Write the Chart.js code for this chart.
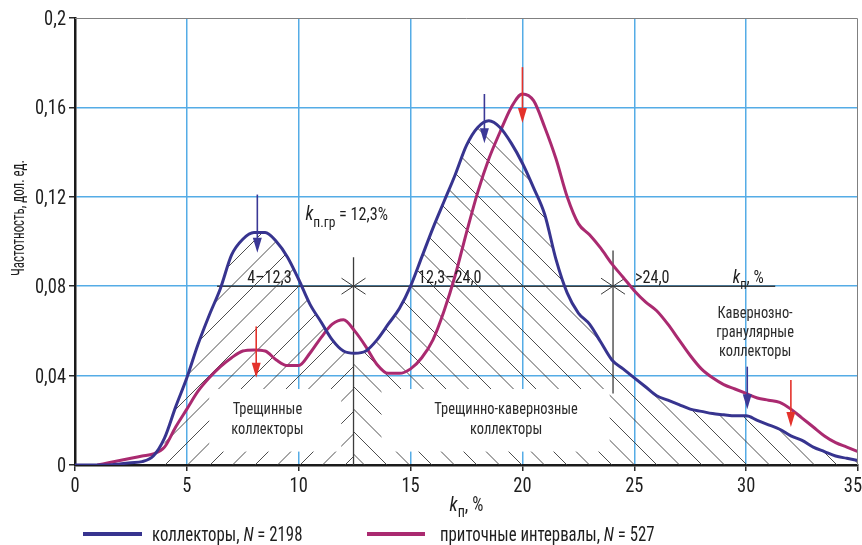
<!DOCTYPE html>
<html>
<head>
<meta charset="utf-8">
<script src="https://cdn.jsdelivr.net/npm/chart.js@4.4.1/dist/chart.umd.min.js"></script>
<style>
  body { margin: 0; background: #fff; overflow: hidden; }
  canvas { display: block; }
</style>
</head>
<body>
<canvas id="chart" width="862" height="545"></canvas>
<script>
// DATA
const porosity = [0, 0.5, 1, 1.5, 2, 2.5, 3, 3.5, 4, 4.5, 5, 5.5, 6, 6.5, 7, 7.5, 8, 8.5, 9, 9.5,
  10, 10.5, 11, 11.5, 12, 12.5, 13, 13.5, 14, 14.5, 15, 15.5, 16, 16.5, 17, 17.5, 18, 18.5, 19, 19.5,
  20, 20.5, 21, 21.5, 22, 22.5, 23, 23.5, 24, 24.5, 25, 25.5, 26, 26.5, 27, 27.5, 28, 28.5, 29, 29.5,
  30, 30.5, 31, 31.5, 32, 32.5, 33, 33.5, 34, 34.5, 35];

const collectors = [0, 0, 0, 0, 0.0005, 0.001, 0.0015, 0.004, 0.012, 0.026, 0.039, 0.054, 0.067, 0.079, 0.094, 0.101, 0.104, 0.104, 0.1, 0.093,
  0.083, 0.072, 0.064, 0.056, 0.051, 0.05, 0.051, 0.056, 0.063, 0.07, 0.08, 0.093, 0.106, 0.118, 0.13, 0.143, 0.151, 0.154, 0.151, 0.144,
  0.135, 0.124, 0.112, 0.092, 0.077, 0.068, 0.063, 0.055, 0.047, 0.043, 0.039, 0.035, 0.031, 0.029, 0.027, 0.025, 0.024, 0.023, 0.0225, 0.022,
  0.022, 0.02, 0.018, 0.016, 0.013, 0.011, 0.008, 0.006, 0.004, 0.003, 0.002];

const inflow = [null, null, 0, 0.001, 0.002, 0.003, 0.004, 0.005, 0.008, 0.017, 0.025, 0.033, 0.039, 0.044, 0.048, 0.051, 0.0515, 0.051, 0.047, 0.0445,
  0.0445, 0.05, 0.057, 0.063, 0.065, 0.06, 0.053, 0.045, 0.041, 0.041, 0.043, 0.048, 0.056, 0.069, 0.085, 0.104, 0.122, 0.137, 0.149, 0.16,
  0.166, 0.163, 0.151, 0.137, 0.12, 0.108, 0.103, 0.097, 0.09, 0.084, 0.078, 0.073, 0.069, 0.063, 0.056, 0.049, 0.043, 0.039, 0.036, 0.034,
  0.032, 0.03, 0.029, 0.028, 0.025, 0.021, 0.017, 0.013, 0.01, 0.008, 0.006];

const yTickLabels = ['0', '0,04', '0,08', '0,12', '0,16', '0,2'];
const xTickLabels = ['0', '5', '10', '15', '20', '25', '30', '35'];

const seriesNames = ['коллекторы', 'приточные интервалы'];
const seriesCounts = [2198, 527];

// class boundaries (kп, %) and their labels
const boundaries = [12.45, 24.05];
const classLabels = ['4–12,3', '12,3–24,0', '>24,0'];
const classLevel = 0.08;

// modal arrows: x, top, tip, series index
const arrowX = [8.15, 8.1, 18.3, 20.0, 30.05, 32.0];
const arrowTop = [0.121, 0.062, 0.166, 0.178, 0.044, 0.038];
const arrowTip = [0.095, 0.039, 0.144, 0.153, 0.025, 0.017];
const arrowSeries = [0, 1, 0, 1, 0, 1];

// STYLE
const FONT = "'Liberation Sans Narrow', 'Arial Narrow', 'Roboto Condensed', Roboto, 'Liberation Sans', sans-serif";
const BLUE = '#37348f';
const MAGENTA = '#aa2a70';
const ARROW_COLORS = ['#3b3896', '#e4322b'];
const GRID = '#55ace6';
const INK = '#2a2a2a';

function setFont(ctx, size, italic) {
    ctx.font = (italic ? 'italic ' : '') + size + 'px ' + FONT;
}

// parts: [text, size, italic, dy]; c = horizontal condensing
function richText(ctx, x, y, parts, align, c) {
    c = c || 0.9;
    let total = 0;
    const widths = parts.map(p => {
        setFont(ctx, p[1], p[2]);
        const w = ctx.measureText(p[0]).width * c;
        total += w;
        return w;
    });
    let cx = x;
    if (align === 'center') cx = x - total / 2;
    if (align === 'right') cx = x - total;
    ctx.textAlign = 'left';
    ctx.textBaseline = 'alphabetic';
    parts.forEach((p, i) => {
        setFont(ctx, p[1], p[2]);
        ctx.save();
        ctx.translate(cx, y + (p[3] || 0));
        ctx.scale(c, 1);
        ctx.fillText(p[0], 0, 0);
        ctx.restore();
        cx += widths[i];
    });
    return total;
}

function hatch(ctx, ca, dir, step, phase) {
    const h = ca.bottom - ca.top;
    let x0 = phase - Math.ceil((phase - ca.left + h) / step) * step;
    ctx.beginPath();
    for (; x0 < ca.right + h; x0 += step) {
        ctx.moveTo(x0, ca.bottom);
        ctx.lineTo(x0 + dir * h, ca.top);
    }
    ctx.stroke();
}

function arrow(ctx, px, y1, y2, color) {
    ctx.strokeStyle = color;
    ctx.fillStyle = color;
    ctx.lineWidth = 1.6;
    ctx.beginPath();
    ctx.moveTo(px, y1);
    ctx.lineTo(px, y2 - 10);
    ctx.stroke();
    ctx.beginPath();
    ctx.moveTo(px - 4.5, y2 - 15);
    ctx.lineTo(px + 4.5, y2 - 15);
    ctx.lineTo(px, y2);
    ctx.closePath();
    ctx.fill();
}

// ===================================================
// HATCHING, CLASS LINES
// ===================================================
const hatchPlugin = {
    id: 'hatch',
    beforeDatasetsDraw(chart) {
        const { ctx, chartArea: ca, scales: { x, y } } = chart;
        const line = chart.getDatasetMeta(0).dataset;
        line.updateControlPoints(ca, 'x');

        function clipUnder(x1, x2) {
            const p1 = x.getPixelForValue(x1);
            const p2 = x.getPixelForValue(x2);
            ctx.beginPath();
            ctx.rect(p1, ca.top, p2 - p1, ca.bottom - ca.top);
            ctx.clip();
            ctx.beginPath();
            line.path(ctx);
            ctx.lineTo(ca.right, ca.bottom);
            ctx.lineTo(ca.left, ca.bottom);
            ctx.closePath();
            ctx.clip();
        }

        ctx.save();
        ctx.strokeStyle = '#3a3a3a';
        ctx.lineWidth = 0.9;

        ctx.save();
        clipUnder(4, boundaries[0]);
        hatch(ctx, ca, 1, 22.5, 165);
        ctx.restore();

        ctx.save();
        clipUnder(boundaries[0], 35);
        hatch(ctx, ca, -1, 22.5, 387);
        ctx.restore();

        // white boxes behind class names
        ctx.fillStyle = '#fff';
        const by1 = y.getPixelForValue(0.034);
        const by2 = y.getPixelForValue(0.006);
        [[6.0, 11.9], [13.7, 23.9]].forEach(b => {
            const a = x.getPixelForValue(b[0]);
            const c = x.getPixelForValue(b[1]);
            ctx.fillRect(a, by1, c - a, by2 - by1);
        });

        // class level line and boundaries
        const ly = y.getPixelForValue(classLevel);
        ctx.strokeStyle = '#3c3c3c';
        ctx.lineWidth = 1.6;
        ctx.beginPath();
        ctx.moveTo(x.getPixelForValue(6.35), ly);
        ctx.lineTo(x.getPixelForValue(31.3), ly);
        ctx.stroke();

        ctx.lineWidth = 1.3;
        ctx.beginPath();
        ctx.moveTo(x.getPixelForValue(boundaries[0]), y.getPixelForValue(0));
        ctx.lineTo(x.getPixelForValue(boundaries[0]), y.getPixelForValue(0.093));
        ctx.moveTo(x.getPixelForValue(boundaries[1]), y.getPixelForValue(0.032));
        ctx.lineTo(x.getPixelForValue(boundaries[1]), y.getPixelForValue(0.096));
        ctx.stroke();

        ctx.lineWidth = 1;
        boundaries.forEach(b => {
            const px = x.getPixelForValue(b);
            ctx.beginPath();
            ctx.moveTo(px - 12, ly - 8);
            ctx.lineTo(px + 12, ly + 8);
            ctx.moveTo(px - 12, ly + 8);
            ctx.lineTo(px + 12, ly - 8);
            ctx.stroke();
        });
        ctx.restore();
    },

    afterDatasetsDraw(chart) {
        const { ctx, chartArea: ca, scales: { x, y } } = chart;
        ctx.save();

        // frame top / right
        ctx.strokeStyle = '#808080';
        ctx.lineWidth = 1;
        ctx.beginPath();
        ctx.moveTo(ca.left, ca.top + 0.5);
        ctx.lineTo(ca.right - 0.5, ca.top + 0.5);
        ctx.lineTo(ca.right - 0.5, ca.bottom);
        ctx.stroke();

        // tick labels
        ctx.fillStyle = '#1e1e1e';
        y.ticks.forEach((t, i) => {
            richText(ctx, ca.left - 9, y.getPixelForValue(t.value) + 7, [[yTickLabels[i], 21]], 'right', 0.88);
        });
        x.ticks.forEach((t, i) => {
            let px = x.getPixelForValue(t.value);
            setFont(ctx, 21);
            const w = ctx.measureText(xTickLabels[i]).width * 0.88;
            px = Math.min(px, 862 - w / 2);
            richText(ctx, px, 492, [[xTickLabels[i], 21]], 'center', 0.88);
        });

        // arrows
        arrowX.forEach((ax, i) => {
            arrow(ctx, x.getPixelForValue(ax), y.getPixelForValue(arrowTop[i]),
                y.getPixelForValue(arrowTip[i]), ARROW_COLORS[arrowSeries[i]]);
        });

        // texts
        ctx.fillStyle = '#1e1e1e';
        const ly = y.getPixelForValue(classLevel) - 3;
        richText(ctx, x.getPixelForValue(7.7), ly, [[classLabels[0], 18]]);
        richText(ctx, x.getPixelForValue(15.33), ly, [[classLabels[1], 18]]);
        richText(ctx, x.getPixelForValue(25.03), ly, [[classLabels[2], 18]]);
        richText(ctx, x.getPixelForValue(29.4), ly, [['k', 19, true], ['п', 14, false, 6], [', %', 18]]);

        richText(ctx, x.getPixelForValue(10.3), y.getPixelForValue(0.1095),
            [['k', 20, true], ['п.гр', 15, false, 7], [' = 12,3%', 18]]);

        ctx.fillStyle = '#2a2a2a';
        const t1 = 414, t2 = 434;
        richText(ctx, x.getPixelForValue(8.6), t1, [['Трещинные', 16]], 'center');
        richText(ctx, x.getPixelForValue(8.6), t2, [['коллекторы', 16]], 'center');
        richText(ctx, x.getPixelForValue(19.27), t1, [['Трещинно-кавернозные', 16]], 'center');
        richText(ctx, x.getPixelForValue(19.27), t2, [['коллекторы', 16]], 'center');
        richText(ctx, x.getPixelForValue(30.4), 318, [['Кавернозно-', 16]], 'center');
        richText(ctx, x.getPixelForValue(30.4), 337, [['гранулярные', 16]], 'center');
        richText(ctx, x.getPixelForValue(30.4), 356, [['коллекторы', 16]], 'center');

        // axis titles
        ctx.fillStyle = '#1e1e1e';
        richText(ctx, (ca.left + ca.right) / 2, 511, [['k', 21, true], ['п', 16, false, 6], [', %', 20]], 'center', 0.88);

        ctx.save();
        ctx.translate(24, 218);
        ctx.rotate(-Math.PI / 2);
        richText(ctx, 0, 0, [['Частотность, дол. ед.', 19]], 'center', 0.68);
        ctx.restore();

        // legend
        const legendLine = [[83, 142], [367, 425]];
        const legendText = [152, 440];
        [BLUE, MAGENTA].forEach((c, i) => {
            ctx.strokeStyle = c;
            ctx.lineWidth = 4;
            ctx.beginPath();
            ctx.moveTo(legendLine[i][0], 534);
            ctx.lineTo(legendLine[i][1], 534);
            ctx.stroke();
            richText(ctx, legendText[i], 541,
                [[seriesNames[i] + ', ', 20], ['N', 20, true], [' = ' + seriesCounts[i], 20]], 'left', 0.84);
        });

        ctx.restore();
    }
};

// ===================================================
// CHART
// ===================================================
const ctx = document.getElementById('chart').getContext('2d');

const edgeGrid = (max) => c => (c.tick && (c.tick.value <= 0 || c.tick.value >= max - 1e-6)) ? 'rgba(0,0,0,0)' : GRID;

new Chart(ctx, {
    type: 'line',
    data: {
        datasets: [
            {
                label: seriesNames[0],
                data: porosity.map((v, i) => ({ x: v, y: collectors[i] })),
                borderColor: BLUE,
                borderWidth: 3,
                pointRadius: 0,
                cubicInterpolationMode: 'monotone',
                fill: false
            },
            {
                label: seriesNames[1],
                data: porosity.map((v, i) => ({ x: v, y: inflow[i] })),
                borderColor: MAGENTA,
                borderWidth: 3,
                pointRadius: 0,
                cubicInterpolationMode: 'monotone',
                fill: false
            }
        ]
    },
    options: {
        responsive: false,
        animation: false,
        devicePixelRatio: 1,
        layout: { padding: { top: 18, right: 4, bottom: 0, left: 0 } },
        plugins: {
            legend: { display: false },
            tooltip: { enabled: false }
        },
        scales: {
            x: {
                type: 'linear',
                min: 0,
                max: 35,
                ticks: { stepSize: 5, display: false },
                grid: { color: edgeGrid(35), lineWidth: 1.5, tickColor: INK, tickLength: 6, tickWidth: 1.5 },
                border: { color: '#1a1a1a', width: 2.5 },
                afterFit(s) { s.height = 80; s.paddingLeft = 0; s.paddingRight = 0; }
            },
            y: {
                min: 0,
                max: 0.2,
                ticks: { stepSize: 0.04, display: false },
                grid: { color: edgeGrid(0.2), lineWidth: 1.5, tickColor: INK, tickLength: 6, tickWidth: 1.5 },
                border: { color: '#1a1a1a', width: 2.5 },
                afterFit(s) { s.width = 75; s.paddingTop = 0; s.paddingBottom = 0; }
            }
        }
    },
    plugins: [hatchPlugin]
});
</script>
</body>
</html>
